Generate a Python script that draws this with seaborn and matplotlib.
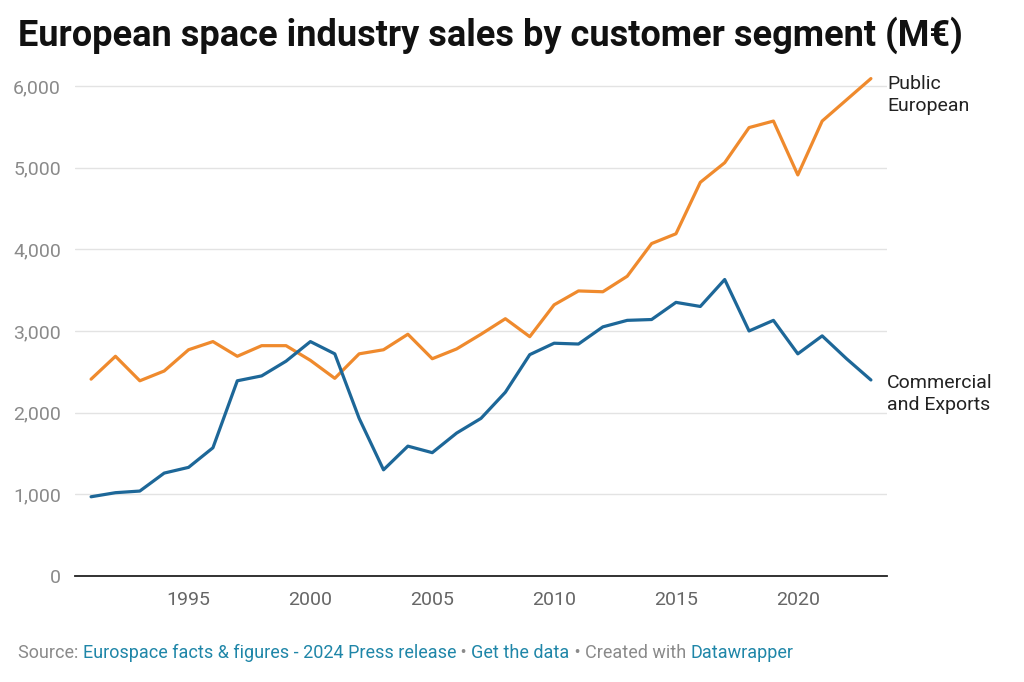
import pandas as pd
import matplotlib.pyplot as plt
import seaborn as sns

years = list(range(1991, 2024))
public_european = [2410, 2690, 2390, 2510, 2770, 2870, 2690, 2820, 2820, 2640,
                   2420, 2720, 2770, 2960, 2660, 2780, 2960, 3150, 2930, 3320,
                   3490, 3480, 3670, 4070, 4190, 4820, 5060, 5490, 5570, 4910,
                   5570, 5830, 6090]
commercial_exports = [970, 1020, 1040, 1260, 1330, 1570, 2390, 2450, 2630, 2870,
                      2720, 1930, 1300, 1590, 1510, 1750, 1930, 2250, 2710, 2850,
                      2840, 3050, 3130, 3140, 3350, 3300, 3630, 3000, 3130, 2720,
                      2940, 2660, 2400]
series_names = ['Public\nEuropean', 'Commercial\nand Exports']
y_ticks = [0, 1000, 2000, 3000, 4000, 5000, 6000]
x_ticks = [1995, 2000, 2005, 2010, 2015, 2020]

df = pd.DataFrame({
    'Year': years * 2,
    'Sales': public_european + commercial_exports,
    'Segment': [series_names[0]] * len(years) + [series_names[1]] * len(years),
})

colors = {series_names[0]: '#ef8a2d', series_names[1]: '#1d6798'}

sns.set_theme(style='white')
plt.rcParams['font.family'] = ['Roboto', 'DejaVu Sans']

fig = plt.figure(figsize=(10.24, 6.82), dpi=100)
ax = fig.add_axes([75 / 1024, 1 - 576 / 682, (887 - 75) / 1024, (576 - 70) / 682])

sns.lineplot(data=df, x='Year', y='Sales', hue='Segment', palette=colors,
             linewidth=2.3, ax=ax, legend=False)

ax.set_xlim(1990.34, 2023.66)
ax.set_ylim(0, 6195)
ax.set_yticks(y_ticks)
ax.set_yticklabels([f'{v:,}' for v in y_ticks])
ax.set_xticks(x_ticks)
ax.set_xticklabels([str(v) for v in x_ticks])
ax.tick_params(axis='both', length=0, labelsize=14, labelcolor='#8a8a8a')
ax.tick_params(axis='y', pad=10)
ax.tick_params(axis='x', pad=11)
for lab in ax.get_xticklabels():
    lab.set_color('#666666')
ax.set_xlabel('')
ax.set_ylabel('')
ax.grid(axis='y', color='#e3e3e3', linewidth=1)
ax.grid(axis='x', visible=False)
for side in ['top', 'right', 'left']:
    ax.spines[side].set_visible(False)
ax.spines['bottom'].set_color('#222222')
ax.spines['bottom'].set_linewidth(1.3)
ax.set_axisbelow(True)

# line labels at the right end
ax.annotate(series_names[0], xy=(1, public_european[-1]), xycoords=('axes fraction', 'data'),
            xytext=(0, -12), textcoords='offset points', ha='left', va='center',
            fontsize=14, color='#222222', linespacing=1.25, annotation_clip=False)
ax.annotate(series_names[1], xy=(1, commercial_exports[-1]), xycoords=('axes fraction', 'data'),
            xytext=(0, -10), textcoords='offset points', ha='left', va='center',
            fontsize=14, color='#222222', linespacing=1.25, annotation_clip=False)

fig.text(18 / 1024, 1 - 35 / 682, 'European space industry sales by customer segment (M€)',
         fontsize=26, fontweight='bold', color='#111111', va='center', ha='left')

# footer with coloured link parts
parts = [('Source: ', '#8a8a8a'), ('Eurospace facts & figures - 2024 Press release', '#1f86a8'),
         (' • ', '#8a8a8a'), ('Get the data', '#1f86a8'), (' • Created with ', '#8a8a8a'),
         ('Datawrapper', '#1f86a8')]
prev = fig.text(18 / 1024, 1 - 653 / 682, parts[0][0], fontsize=13, color=parts[0][1],
                va='center', ha='left')
for txt, col in parts[1:]:
    prev = ax.annotate(txt, xy=(1, 0.5), xycoords=prev, va='center', ha='left',
                       fontsize=13, color=col, annotation_clip=False)

fig.savefig('out.png', dpi=100, facecolor='white')
